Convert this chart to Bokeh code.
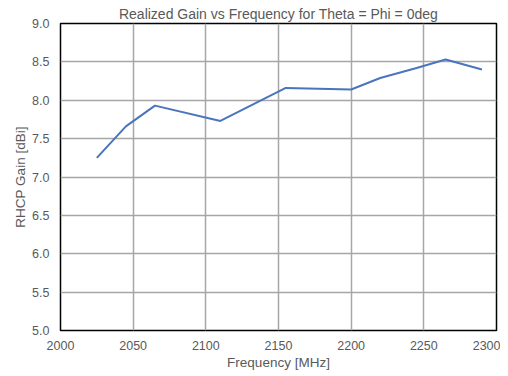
from bokeh.plotting import figure
from bokeh.models import FixedTicker, Range1d, NumeralTickFormatter
from bokeh.embed import file_html
from bokeh.resources import INLINE

freq_mhz = [2025, 2045, 2065, 2110, 2155, 2200, 2220, 2245, 2265, 2290]
gain_dbi = [7.25, 7.66, 7.93, 7.73, 8.16, 8.14, 8.29, 8.42, 8.53, 8.40]
x_ticks = [2000, 2050, 2100, 2150, 2200, 2250, 2300]
y_ticks = [5.0, 5.5, 6.0, 6.5, 7.0, 7.5, 8.0, 8.5, 9.0]

FONT = "Liberation Sans"
TXT = "#595959"

p = figure(width=500, height=372, output_backend="svg", toolbar_location=None,
           x_range=Range1d(2000, 2300), y_range=Range1d(5.0, 9.0),
           min_border_left=60, min_border_right=4, min_border_top=23, min_border_bottom=42)

p.title.text = "Realized Gain vs Frequency for Theta = Phi = 0deg"
p.title.align = "center"
p.title.text_font = FONT
p.title.text_font_size = "14px"
p.title.text_font_style = "normal"
p.title.text_color = TXT
p.title.standoff = 3
p.title.offset = 0

p.line(freq_mhz, gain_dbi, line_color="#4A74BE", line_width=2)

p.xaxis.ticker = FixedTicker(ticks=x_ticks)
p.yaxis.ticker = FixedTicker(ticks=y_ticks)
p.yaxis.formatter = NumeralTickFormatter(format="0.0")
p.xaxis.axis_label = "Frequency [MHz]"
p.yaxis.axis_label = "RHCP Gain [dBi]"
for ax in (p.xaxis, p.yaxis):
    ax.axis_line_color = None
    ax.major_tick_line_color = None
    ax.minor_tick_line_color = None
    ax.major_tick_out = 0
    ax.major_tick_in = 0
    ax.major_label_text_font = FONT
    ax.major_label_text_font_size = "12.5px"
    ax.major_label_text_color = TXT
    ax.axis_label_text_font = FONT
    ax.axis_label_text_font_size = "13.5px"
    ax.axis_label_text_font_style = "normal"
    ax.axis_label_text_color = TXT
p.xaxis.major_label_standoff = 10
p.yaxis.major_label_standoff = 11
p.xaxis.axis_label_standoff = 2
p.yaxis.axis_label_standoff = 1

p.xgrid.grid_line_color = "#A6A6A6"
p.ygrid.grid_line_color = "#A6A6A6"
p.xgrid.grid_line_width = 1.5
p.ygrid.grid_line_width = 1.5

p.outline_line_color = "black"
p.outline_line_width = 1.5
p.outline_line_alpha = 1.0

open("out.html", "w").write(file_html(p, INLINE))
